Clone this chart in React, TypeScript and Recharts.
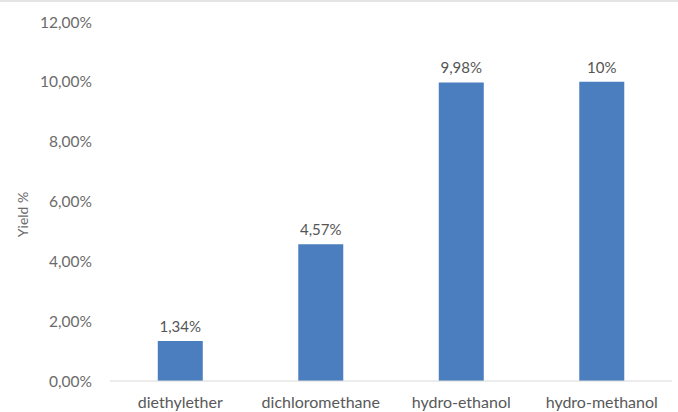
import { BarChart, Bar, XAxis, YAxis, LabelList } from 'recharts';

const solvents = ['diethylether', 'dichloromethane', 'hydro-ethanol', 'hydro-methanol'];
const yieldPct = [1.34, 4.57, 9.98, 10];
const yTicks = [0, 2, 4, 6, 8, 10, 12];

const data = solvents.map((name, i) => ({ name, value: yieldPct[i] }));

const fmtAxis = (v: number) => `${v.toFixed(2).replace('.', ',')}%`;
const fmtLabel = (v: number) =>
  Number.isInteger(v) ? `${v}%` : `${v.toFixed(2).replace('.', ',')}%`;

const FONT = 'Lato, "Open Sans", sans-serif';

// rotated axis title, sits a bit below the plot's middle
const YTitle = ({ viewBox }: any) => {
  const x = 22;
  const y = viewBox.y + viewBox.height / 2 + 13;
  return (
    <text
      x={x}
      y={y}
      transform={`rotate(-90, ${x}, ${y})`}
      textAnchor="middle"
      dominantBaseline="central"
      fontSize={14}
      fill="#6b6b6b"
      fontFamily={FONT}
    >
      Yield %
    </text>
  );
};

export default function App() {
  return (
    <div
      style={{
        position: 'fixed',
        left: 0,
        top: 0,
        width: 678,
        height: 412,
        background: '#fff',
        borderTop: '2px solid #e4e4e4',
        boxSizing: 'border-box',
        fontFamily: FONT,
      }}
    >
      <BarChart
        width={678}
        height={410}
        data={data}
        margin={{ top: 20, right: 6, left: 0, bottom: 0 }}
        barCategoryGap="34%"
      >
        <XAxis
          dataKey="name"
          tickLine={false}
          axisLine={{ stroke: '#d9d9d9' }}
          tick={{ fontSize: 16, fill: '#595959', fontFamily: FONT }}
          tickMargin={10}
          height={31}
          interval={0}
        />
        <YAxis
          domain={[0, 12]}
          ticks={yTicks}
          tickFormatter={fmtAxis}
          axisLine={false}
          tickLine={false}
          width={110}
          tickMargin={12}
          tick={{ fontSize: 15.5, fill: '#6b6b6b', fontFamily: FONT }}
          label={<YTitle />}
        />
        <Bar dataKey="value" fill="#4a7ebf" isAnimationActive={false}>
          <LabelList
            dataKey="value"
            position="top"
            offset={9}
            formatter={(v: number) => fmtLabel(v)}
            style={{ fontSize: 15, fill: '#555', fontFamily: FONT }}
          />
        </Bar>
      </BarChart>
    </div>
  );
}
